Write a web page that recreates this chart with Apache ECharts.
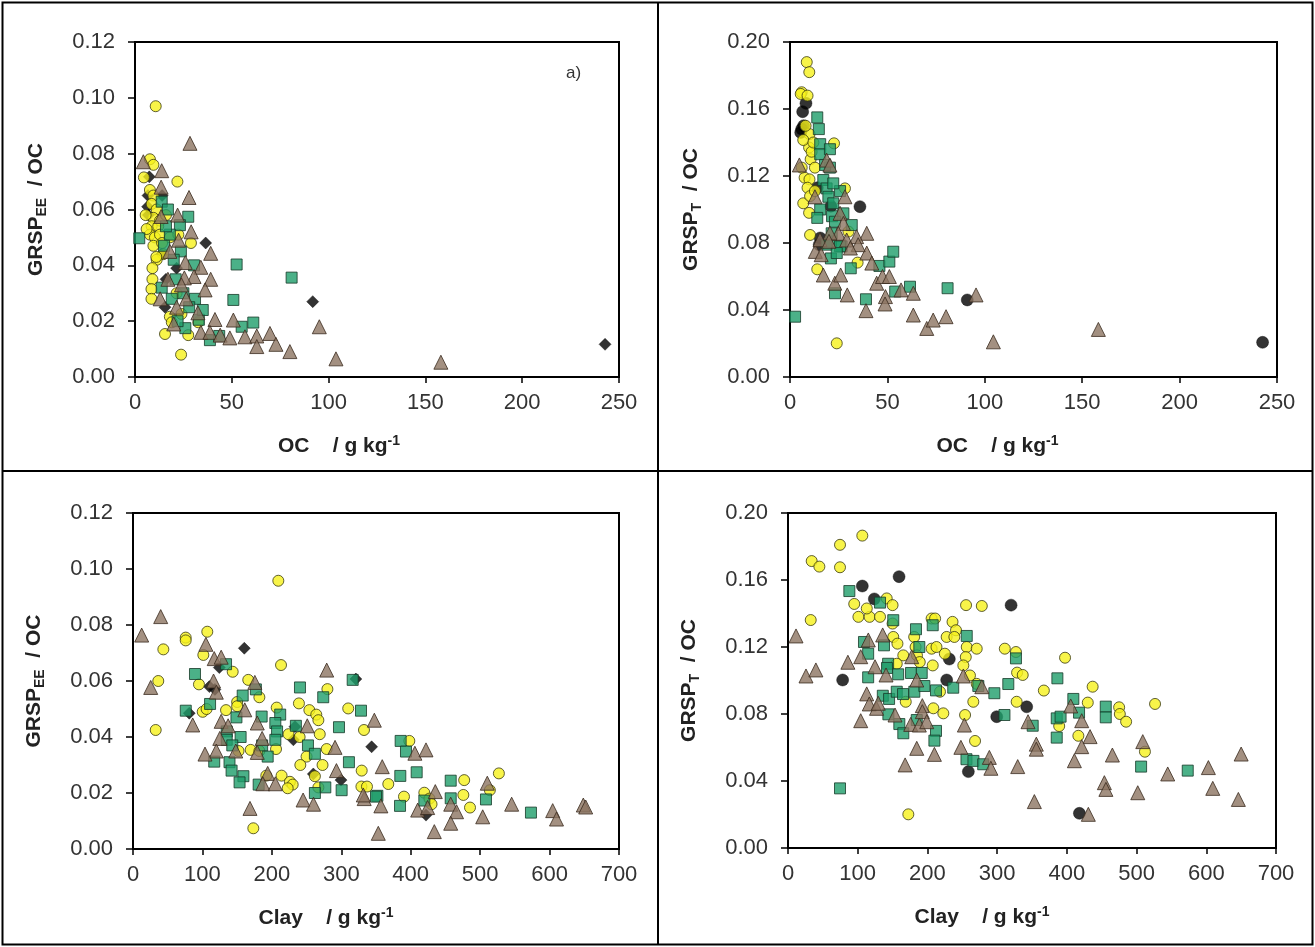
<!DOCTYPE html>
<html>
<head>
<meta charset="utf-8">
<script src="https://cdn.jsdelivr.net/npm/echarts@6/dist/echarts.min.js"></script>
<style>
html, body { margin: 0; padding: 0; background: #fff; }
#chart { width: 1315px; height: 947px; }
</style>
</head>
<body>
<div id="chart"></div>
<script>
// ---- data: [x, y] pairs ----
// panel a (top left): OC vs GRSP_EE / OC
var yellowOcEE = [[10.7,0.097],[7.7,0.078],[9.5,0.076],[4.6,0.0715],[21.9,0.070],[7.7,0.067],[9.5,0.065],[8.6,0.062],[11.2,0.060],[9.5,0.057],[12.9,0.056],[8.6,0.054],[12,0.054],[7.7,0.051],[10.3,0.050],[12.9,0.051],[9.5,0.047],[14.6,0.044],[18,0.050],[22.4,0.051],[11.2,0.042],[28.9,0.048],[9,0.039],[9,0.035],[8.5,0.0315],[8.5,0.028],[21.5,0.030],[18,0.0216],[24,0.0226],[32.7,0.0196],[19,0.0196],[15.5,0.0154],[27.5,0.015],[23.8,0.008],[5.5,0.058],[6,0.053],[14,0.048],[16,0.058],[11,0.043]];
var blackOcEE = [[7.4,0.0717],[6.7,0.065],[6.5,0.061],[6.9,0.058],[36.5,0.048],[13.8,0.044],[21.5,0.039],[16,0.035],[15.5,0.025],[91.8,0.027],[242.8,0.0117],[14,0.065]];
var greenOcEE = [[2.2,0.0497],[27.5,0.0574],[23.2,0.0544],[18,0.051],[13.8,0.0628],[17,0.060],[52.5,0.0403],[80.9,0.0356],[50.8,0.0276],[61.1,0.0195],[55.1,0.018],[38.7,0.0132],[43.5,0.0147],[33,0.0205],[31,0.028],[26,0.0175],[28,0.025],[15,0.047],[23.7,0.045],[21,0.035],[30.5,0.040],[13.8,0.032],[16,0.054],[20,0.042],[25,0.030],[19,0.028],[22,0.020],[35,0.024]];
var brownOcEE = [[28.4,0.0837],[4.3,0.0771],[13.8,0.0739],[13.5,0.068],[27.9,0.0643],[22,0.058],[13.5,0.0575],[22.5,0.049],[39.1,0.0443],[34,0.0393],[39.1,0.035],[26,0.041],[30.5,0.036],[25.5,0.0355],[36.2,0.0312],[17,0.035],[26.5,0.028],[13,0.028],[21.5,0.025],[32.5,0.023],[41.3,0.0206],[50.8,0.0204],[34,0.016],[20,0.019],[38.7,0.016],[44,0.015],[49,0.014],[56.8,0.0144],[62.9,0.0147],[62.9,0.0109],[69.7,0.0156],[72.8,0.0117],[80,0.0091],[95.2,0.018],[103.8,0.0065],[158,0.0053],[18,0.045],[29,0.052],[24,0.033]];

// top right: OC vs GRSP_T / OC
var yellowOcT = [[8.6,0.188],[9.9,0.182],[6,0.170],[5.5,0.169],[9,0.168],[22.6,0.1395],[9.8,0.137],[10.6,0.130],[7.5,0.119],[10,0.118],[9,0.113],[6.8,0.1037],[9.8,0.098],[10.3,0.0848],[14,0.0643],[34.7,0.0683],[24,0.0201],[10,0.145],[6.8,0.1415],[11.1,0.1345],[6,0.125],[12.8,0.125],[10.3,0.108],[12.8,0.111],[28.2,0.1126],[30,0.0868],[8,0.150],[12,0.140]];
var blackOcT = [[8.2,0.1634],[6.5,0.1584],[6,0.148],[5.5,0.146],[35.9,0.1017],[14,0.113],[21,0.102],[15.5,0.083],[15,0.079],[91,0.046],[242.6,0.0207],[7,0.150]];
var greenOcT = [[2.6,0.036],[14,0.155],[14.8,0.148],[15.5,0.139],[15.5,0.133],[20.5,0.136],[20.5,0.125],[25.7,0.111],[31.7,0.0907],[15.5,0.100],[14,0.095],[21.6,0.096],[21,0.0708],[23.1,0.050],[31.2,0.0649],[39,0.0464],[45.9,0.0663],[51,0.0689],[53,0.0748],[61.6,0.0539],[54,0.051],[80.9,0.053],[26.5,0.078],[21,0.081],[18,0.1266],[17.1,0.1176],[18.8,0.1126],[22.2,0.1156],[19.7,0.1076],[22.2,0.1037],[27.4,0.0977],[23.1,0.0927],[21.4,0.0858],[25.7,0.078],[18.8,0.079],[24,0.074]];
var brownOcT = [[4.8,0.1266],[13,0.075],[17.1,0.0609],[23,0.056],[26,0.0609],[29.4,0.049],[39,0.0396],[39.4,0.0858],[39.4,0.074],[42,0.068],[44.5,0.056],[47.5,0.060],[51,0.060],[49,0.048],[48.8,0.0436],[57,0.052],[63.3,0.050],[63.3,0.037],[70.2,0.029],[73.5,0.034],[80.1,0.036],[104.4,0.021],[158.3,0.0284],[95.5,0.049],[12.8,0.1076],[18.8,0.1295],[20.5,0.1265],[28.2,0.1076],[25.7,0.0977],[27.4,0.0917],[24.8,0.0858],[29.1,0.0818],[34.2,0.0838],[35,0.079],[31,0.077],[20.5,0.086],[15.4,0.082],[16,0.073],[20,0.081]];

// bottom left: Clay vs GRSP_EE / OC
var yellowClayEE = [[209.3,0.0958],[75.9,0.0755],[75.9,0.0745],[107,0.0776],[43.7,0.0713],[101.3,0.0693],[213.2,0.0657],[36.4,0.060],[143.6,0.0633],[95,0.0588],[166,0.0604],[182,0.0542],[280,0.0571],[100.4,0.049],[106,0.050],[134,0.0496],[150,0.0525],[150,0.051],[207,0.0505],[239,0.052],[254,0.0496],[264,0.048],[267,0.046],[310,0.0502],[32.7,0.0425],[269,0.041],[240,0.040],[224,0.041],[169.5,0.0354],[152,0.035],[182,0.035],[206,0.0357],[250,0.033],[241,0.030],[273,0.030],[279,0.0357],[192,0.0262],[214,0.0262],[226,0.024],[230,0.023],[222.8,0.0217],[262,0.026],[267,0.022],[329.4,0.028],[329,0.0223],[337,0.0223],[332.7,0.0425],[173.3,0.0074],[398,0.0386],[367.7,0.0232],[390.3,0.0187],[419.6,0.0201],[427,0.018],[430,0.016],[477,0.0246],[475.8,0.0193],[485.4,0.0148],[527,0.027],[514,0.021]];
var blackClayEE = [[160.3,0.0717],[124.3,0.0648],[110,0.058],[81,0.0485],[233.3,0.0437],[231,0.039],[259.7,0.0268],[299.6,0.0246],[321,0.0607],[343.7,0.0365],[422,0.0121],[118,0.057]];
var greenClayEE = [[89.3,0.0625],[134,0.066],[111,0.0518],[76,0.0494],[158,0.0548],[177,0.057],[240.5,0.0577],[274,0.0542],[328.4,0.0494],[316.4,0.0604],[149,0.047],[185.3,0.0473],[212,0.048],[234.6,0.044],[205,0.045],[207.5,0.042],[205,0.039],[155,0.040],[135,0.042],[135,0.039],[143,0.037],[186,0.037],[194,0.033],[252,0.037],[262,0.034],[296.7,0.0435],[311,0.031],[139,0.031],[142,0.028],[159,0.026],[153.5,0.0238],[181,0.023],[117,0.0312],[277,0.022],[300.5,0.021],[352,0.019],[262,0.020],[385.5,0.0386],[393.2,0.0348],[385,0.0261],[408.6,0.0274],[350,0.0187],[384.6,0.0154],[419.6,0.0173],[457.6,0.0244],[457.6,0.0181],[508.4,0.0177],[573.2,0.013]];
var brownClayEE = [[12.5,0.0764],[39.9,0.083],[25.5,0.0577],[86,0.0443],[105,0.0731],[117,0.068],[127,0.0685],[279,0.0639],[175.5,0.0595],[116,0.060],[120,0.056],[161,0.0497],[127,0.0456],[137,0.044],[125,0.0395],[120,0.035],[103.7,0.0339],[179,0.045],[186,0.0395],[179,0.0345],[251,0.044],[291,0.0363],[293,0.028],[194,0.027],[187,0.0233],[205,0.0233],[245,0.0175],[260,0.016],[168.5,0.0145],[333,0.018],[148,0.035],[347.6,0.046],[359,0.0294],[331.7,0.0193],[357,0.0154],[353.3,0.0056],[406,0.0342],[422,0.0354],[410,0.0139],[435.4,0.0205],[434,0.0062],[424.4,0.0148],[457.6,0.016],[466,0.0133],[457.6,0.0092],[503.7,0.0115],[510.3,0.0235],[545.4,0.016],[604.5,0.0137],[610,0.0107],[648.6,0.0157],[652,0.015]];

// bottom right: Clay vs GRSP_T / OC
var yellowClayT = [[34,0.1713],[45,0.168],[74.6,0.181],[106.6,0.1865],[74.6,0.1676],[32.6,0.1361],[95,0.1457],[101,0.138],[117,0.138],[132,0.138],[113,0.143],[141.6,0.149],[150,0.145],[255.4,0.145],[278,0.1445],[150,0.134],[151,0.126],[157,0.122],[165.4,0.115],[156,0.110],[181,0.126],[183,0.120],[185,0.115],[189,0.111],[206,0.137],[211,0.137],[206,0.119],[213,0.120],[207.6,0.109],[225,0.116],[227.6,0.126],[236,0.135],[241,0.130],[238.6,0.126],[256.4,0.120],[270.7,0.119],[255,0.114],[251.5,0.109],[261,0.103],[270.7,0.098],[218,0.0933],[208.5,0.0834],[222.8,0.0804],[265.8,0.0873],[254,0.0794],[268.3,0.0639],[168.9,0.0873],[172.6,0.0201],[311,0.119],[327,0.117],[328.6,0.1047],[336.7,0.1033],[367,0.094],[328,0.0873],[397.4,0.1136],[437,0.0963],[430,0.0868],[475,0.084],[476,0.080],[485,0.0754],[526.5,0.086],[389,0.0728],[416.5,0.067],[512,0.0575]];
var blackClayT = [[106.6,0.1564],[159.3,0.162],[123.8,0.1487],[78.4,0.1003],[231.4,0.1128],[227.6,0.1003],[320,0.145],[342.4,0.0843],[299.4,0.0784],[258.7,0.0456],[418,0.0207]];
var greenClayT = [[88,0.1534],[132,0.1465],[151,0.136],[183.6,0.1306],[207.6,0.133],[256.4,0.1266],[109,0.123],[115,0.116],[137.7,0.121],[188.4,0.120],[143.6,0.110],[142,0.1075],[158,0.1037],[115,0.1019],[176.5,0.1045],[191.8,0.1045],[181.2,0.0933],[195.6,0.0967],[212.3,0.0941],[237,0.0957],[273,0.0967],[316,0.0979],[296,0.0924],[327,0.1132],[136,0.0909],[145,0.089],[156,0.0933],[165,0.0919],[144,0.0798],[159.7,0.074],[165.4,0.0685],[184.7,0.0764],[212.3,0.0699],[210,0.0641],[256,0.053],[266,0.052],[280,0.050],[310.5,0.0794],[351,0.073],[74.6,0.0356],[386.4,0.1013],[385.5,0.0774],[391,0.0784],[385.5,0.0659],[409.3,0.089],[417.5,0.0808],[455.8,0.0844],[455.8,0.078],[506.5,0.0486],[573.4,0.0462]];
var brownClayT = [[11.5,0.1266],[25.8,0.1027],[40,0.1063],[85.9,0.1109],[104.3,0.1142],[115.2,0.1242],[135.8,0.1272],[124.8,0.1082],[140.6,0.1033],[177.5,0.1142],[184.7,0.1003],[112.9,0.092],[116.6,0.086],[127,0.0834],[129.5,0.0864],[104.3,0.076],[153.5,0.0794],[192.7,0.085],[192.7,0.0814],[176,0.0738],[188.4,0.0734],[199,0.0754],[168,0.0496],[184.7,0.0595],[210,0.0559],[248,0.0601],[253,0.0734],[251.5,0.1027],[278,0.0963],[288.8,0.0541],[291,0.0476],[329.5,0.0486],[344.3,0.0754],[356.2,0.062],[356.2,0.059],[353.4,0.0277],[405.5,0.0848],[421.3,0.076],[433.3,0.0665],[421.3,0.0605],[410.8,0.0521],[430.8,0.0201],[465.3,0.0555],[453.8,0.039],[456,0.035],[501.7,0.033],[508.9,0.0635],[544.7,0.0442],[603,0.048],[609.3,0.0356],[646,0.029],[650,0.0561]];

// axis ranges / titles
var ocMax = 250, ocStep = 50;
var clayMax = 700, clayStep = 100;
var eeMax = 0.12, eeStep = 0.02;
var tMax = 0.20, tStep = 0.04;
var ocTitle = '{b|OC    / g kg}{sup|-1}';
var clayTitle = '{b|Clay    / g kg}{sup|-1}';
var eeTitle = '{b|GRSP}{sub|EE}{b|  / OC}';
var tTitle = '{b|GRSP}{sub|T}{b|  / OC}';

var fontName = '"Liberation Sans", Arial, sans-serif';
var rich = {
    b: { fontSize: 21, fontWeight: 'bold', fontFamily: fontName, color: '#222' },
    sub: { fontSize: 14, fontWeight: 'bold', fontFamily: fontName, color: '#222', padding: [12, 0, 0, 0] },
    sup: { fontSize: 14, fontWeight: 'bold', fontFamily: fontName, color: '#222', padding: [0, 0, 10, 0] }
};

function xAxis(gi, max, step, name, shift) {
    return {
        gridIndex: gi, type: 'value', min: 0, max: max, interval: step,
        name: name, nameLocation: 'middle', nameGap: 57,
        nameTextStyle: { padding: [0, shift, 0, 0], rich: rich },
        axisLine: { show: true, onZero: false, lineStyle: { color: '#000', width: 2 } },
        axisTick: { show: true, inside: false, length: 6, lineStyle: { color: '#000', width: 1.5 } },
        axisLabel: { color: '#333', fontSize: 22, fontFamily: fontName, margin: 15 },
        splitLine: { show: false }
    };
}
function yAxis(gi, max, step, name) {
    return {
        gridIndex: gi, type: 'value', min: 0, max: max, interval: step,
        name: name, nameLocation: 'middle', nameGap: 86, nameRotate: 90,
        nameTextStyle: { rich: rich },
        axisLine: { show: true, onZero: false, lineStyle: { color: '#000', width: 2 } },
        axisTick: { show: true, inside: false, length: 7, lineStyle: { color: '#000', width: 1.5 } },
        axisLabel: { color: '#333', fontSize: 22, fontFamily: fontName, margin: 20,
            formatter: function (v) { return v.toFixed(2); } },
        splitLine: { show: false }
    };
}

var yellowStyle = { symbol: 'circle', symbolSize: 11, itemStyle: { color: '#F6F11C', borderColor: '#3a3a10', borderWidth: 1 } };
var diamondStyle = { symbol: 'diamond', symbolSize: 12, itemStyle: { color: '#000', borderColor: '#000', borderWidth: 0.5 } };
var dotStyle = { symbol: 'circle', symbolSize: 12, itemStyle: { color: '#000', borderColor: '#000', borderWidth: 0.5 } };
var greenStyle = { symbol: 'rect', symbolSize: 11, itemStyle: { color: '#1E9E6A', borderColor: '#173a28', borderWidth: 1 } };
var brownStyle = { symbol: 'triangle', symbolSize: 14, itemStyle: { color: '#8C7462', borderColor: '#3a2a1e', borderWidth: 1 } };

function scatter(gi, data, st) {
    return {
        type: 'scatter', xAxisIndex: gi, yAxisIndex: gi, data: data,
        symbol: st.symbol, symbolSize: st.symbolSize, itemStyle: st.itemStyle,
        silent: true
    };
}

var gridBox = { show: true, borderColor: '#000', borderWidth: 2, backgroundColor: '#fff' };

var myChart = echarts.init(document.getElementById('chart'));
var option = {
    animation: false,
    backgroundColor: '#fff',
    grid: [
        Object.assign({ left: 135, top: 42, width: 484, height: 335 }, gridBox),
        Object.assign({ left: 790, top: 42, width: 487, height: 335 }, gridBox),
        Object.assign({ left: 133, top: 513, width: 486, height: 336 }, gridBox),
        Object.assign({ left: 788, top: 513, width: 488, height: 335 }, gridBox)
    ],
    xAxis: [
        xAxis(0, ocMax, ocStep, ocTitle, 76),
        xAxis(1, ocMax, ocStep, ocTitle, 72),
        xAxis(2, clayMax, clayStep, clayTitle, 100),
        xAxis(3, clayMax, clayStep, clayTitle, 100)
    ],
    yAxis: [
        yAxis(0, eeMax, eeStep, eeTitle),
        yAxis(1, tMax, tStep, tTitle),
        yAxis(2, eeMax, eeStep, eeTitle),
        yAxis(3, tMax, tStep, tTitle)
    ],
    series: [
        scatter(0, blackOcEE, diamondStyle),
        scatter(0, yellowOcEE, yellowStyle),
        scatter(0, greenOcEE, greenStyle),
        scatter(0, brownOcEE, brownStyle),
        scatter(1, blackOcT, dotStyle),
        scatter(1, yellowOcT, yellowStyle),
        scatter(1, greenOcT, greenStyle),
        scatter(1, brownOcT, brownStyle),
        scatter(2, blackClayEE, diamondStyle),
        scatter(2, yellowClayEE, yellowStyle),
        scatter(2, greenClayEE, greenStyle),
        scatter(2, brownClayEE, brownStyle),
        scatter(3, blackClayT, dotStyle),
        scatter(3, yellowClayT, yellowStyle),
        scatter(3, greenClayT, greenStyle),
        scatter(3, brownClayT, brownStyle)
    ],
    graphic: [
        { type: 'rect', shape: { x: 2.5, y: 2.5, width: 1310, height: 942 }, style: { fill: 'none', stroke: '#000', lineWidth: 2 }, z: 100 },
        { type: 'line', shape: { x1: 658, y1: 2, x2: 658, y2: 945 }, style: { stroke: '#000', lineWidth: 2 }, z: 100 },
        { type: 'line', shape: { x1: 2, y1: 471, x2: 1313, y2: 471 }, style: { stroke: '#000', lineWidth: 2 }, z: 100 },
        { type: 'text', left: 566, top: 65, style: { text: 'a)', fontSize: 17, fontFamily: fontName, fill: '#333' }, z: 100 }
    ]
};
myChart.setOption(option);
window.addEventListener('resize', function () { myChart.resize(); });
</script>
</body>
</html>
